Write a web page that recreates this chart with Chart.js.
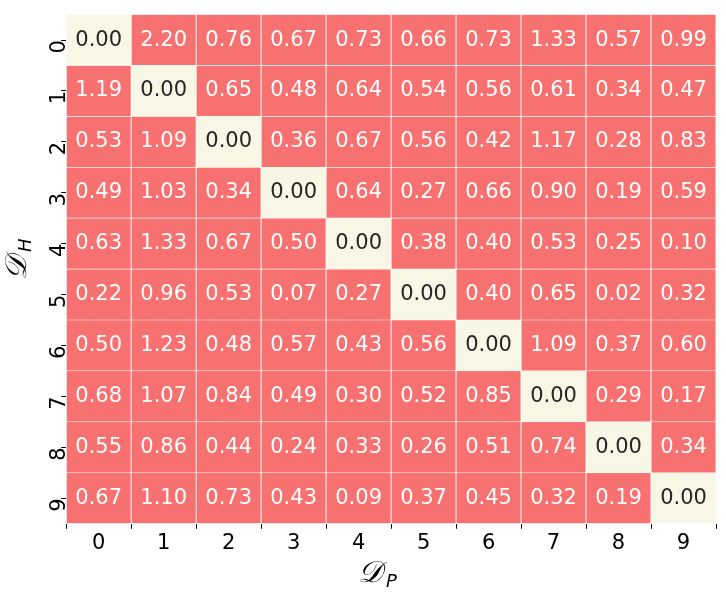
<!DOCTYPE html><html><head><script src="https://cdn.jsdelivr.net/npm/chart.js@4"></script>
<style>body{margin:0;background:#fff}#w{width:726px;height:596px}</style></head><body><div id="w"><canvas id="c"></canvas></div>
<script>
const xLabels=['0','1','2','3','4','5','6','7','8','9'];
const yLabels=['0','1','2','3','4','5','6','7','8','9'];
const r0=[0.00,2.20,0.76,0.67,0.73,0.66,0.73,1.33,0.57,0.99];
const r1=[1.19,0.00,0.65,0.48,0.64,0.54,0.56,0.61,0.34,0.47];
const r2=[0.53,1.09,0.00,0.36,0.67,0.56,0.42,1.17,0.28,0.83];
const r3=[0.49,1.03,0.34,0.00,0.64,0.27,0.66,0.90,0.19,0.59];
const r4=[0.63,1.33,0.67,0.50,0.00,0.38,0.40,0.53,0.25,0.10];
const r5=[0.22,0.96,0.53,0.07,0.27,0.00,0.40,0.65,0.02,0.32];
const r6=[0.50,1.23,0.48,0.57,0.43,0.56,0.00,1.09,0.37,0.60];
const r7=[0.68,1.07,0.84,0.49,0.30,0.52,0.85,0.00,0.29,0.17];
const r8=[0.55,0.86,0.44,0.24,0.33,0.26,0.51,0.74,0.00,0.34];
const r9=[0.67,1.10,0.73,0.43,0.09,0.37,0.45,0.32,0.19,0.00];
const rows=[r0,r1,r2,r3,r4,r5,r6,r7,r8,r9];
const RED='#f87171',CREAM='#f8f6e5';
const datasets=rows.map((r,i)=>({label:'row'+i,data:r.map(()=>1),vals:r,
 backgroundColor:r.map((v,j)=>i===j?CREAM:RED),borderColor:'#fff',borderWidth:0.8,
 barPercentage:1,categoryPercentage:1,stack:'s'}));
const txt={id:'txt',afterDatasetsDraw(ch){const c=ch.ctx;c.save();c.font='21px "DejaVu Sans"';c.textAlign='center';c.textBaseline='middle';
 ch.data.datasets.forEach((d,i)=>{ch.getDatasetMeta(i).data.forEach((b,j)=>{c.fillStyle=i===j?'#262626':'#fff';c.fillText(d.vals[j].toFixed(2),b.x,(b.y+b.base)/2);});});
 c.fillStyle='#000';c.font='italic 30px "DejaVu Serif"';
 c.textAlign='left';c.fillText('𝒟',358,574);c.font='italic 18px "DejaVu Sans"';c.fillText('P',386,582);
 c.translate(18,264);c.rotate(-Math.PI/2);c.font='italic 30px "DejaVu Serif"';c.fillText('𝒟',-16,0);c.font='italic 18px "DejaVu Sans"';c.fillText('H',12,8);
 c.restore();}};
new Chart(document.getElementById('c'),{type:'bar',data:{labels:xLabels,datasets},plugins:[txt],
options:{responsive:true,maintainAspectRatio:false,animation:false,layout:{padding:{left:32,right:10,top:7,bottom:38}},
plugins:{legend:{display:false},tooltip:{enabled:false}},
scales:{x:{stacked:true,grid:{display:true,drawOnChartArea:false,tickLength:5,color:'#000'},border:{display:false},ticks:{color:'#000',font:{size:21,family:'DejaVu Sans'},padding:2}},
y:{stacked:true,min:0,max:10,reverse:true,grid:{display:true,drawOnChartArea:false,tickLength:5,color:'#000'},border:{display:false},
 afterBuildTicks(s){s.ticks=yLabels.map((l,i)=>({value:i+0.5}));},
 ticks:{color:'#000',font:{size:21,family:'DejaVu Sans'},padding:2,minRotation:90,maxRotation:90,callback:(v,i)=>yLabels[i]}}}}});
</script></body></html>
